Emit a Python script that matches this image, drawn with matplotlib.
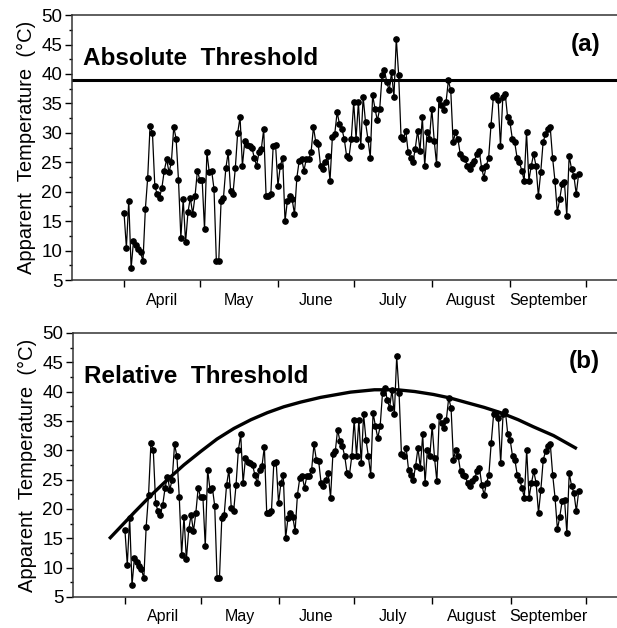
import numpy as np
import matplotlib
matplotlib.use("Agg")
import matplotlib.pyplot as plt
from matplotlib.ticker import FixedLocator, FixedFormatter, MultipleLocator, NullFormatter

plt.rcParams.update({
    "font.family": ["Liberation Sans", "DejaVu Sans"],
    "axes.edgecolor": "#333333", "axes.linewidth": 1.1,
})

# daily apparent temperature (°C), 1 April .. 28 September
TEMPS = [
    16.4, 10.5, 18.5, 7.0, 11.6, 11.0, 10.2, 9.7, 8.2, 17.0,
    22.4, 31.2, 30.0, 21.0, 19.6, 19.0, 20.7, 23.6, 25.5, 23.3,
    25.0, 31.0, 29.0, 22.0, 12.2, 18.7, 11.4, 16.5, 19.0, 16.2,
    19.3, 23.6, 22.0, 22.0, 13.6, 26.7, 23.3, 23.6, 20.5, 8.2,
    8.2, 18.5, 19.0, 24.0, 26.7, 20.2, 19.6, 24.0, 30.0, 32.7,
    24.4, 28.6, 28.0, 27.8, 27.5, 25.8, 24.4, 26.7, 27.3, 30.6,
    19.3, 19.3, 19.6, 27.8, 28.0, 21.0, 24.4, 25.8, 15.0, 18.5,
    19.3, 18.7, 16.2, 22.4, 25.3, 25.6, 23.6, 25.6, 25.6, 26.7,
    31.0, 28.4,
    28.1, 24.4, 23.9, 25.0, 26.1, 21.9, 29.3, 29.8, 33.5, 31.5,
    30.7, 29.0, 26.1, 25.8, 29.0, 35.2, 29.0, 35.2, 27.8, 36.1,
    31.8, 29.0, 25.8, 36.4, 34.1, 32.1, 34.1, 39.8, 40.6, 38.6,
    37.2, 40.3, 36.1, 46.0, 39.8, 29.3, 29.0, 30.4, 26.7, 25.8,
    25.0, 27.3, 30.4, 27.0, 32.7, 24.4, 30.1, 29.0, 34.1, 28.7,
    24.7, 35.8, 34.7, 33.8, 35.2, 38.9, 37.2, 28.4, 30.1, 29.0,
    26.4, 25.8, 25.6, 24.4, 23.9, 24.7, 25.3, 26.4, 27.0, 24.1,
    22.4, 24.4, 25.8, 31.3, 36.1, 36.4, 35.5, 27.8, 36.1, 36.6,
    32.7, 31.8, 29.0, 28.4, 25.8, 25.0, 23.6, 21.9, 30.1, 21.9,
    24.4, 26.4, 24.4, 19.3, 23.3, 28.4, 29.8, 30.7, 31.0, 25.8,
    21.9, 16.5, 18.7, 21.3, 21.6, 15.9, 26.1, 23.9, 22.7, 19.6,
    23.0,
]
FIRST_DAY, LAST_DAY = 0, 180          # days after 1 April

MONTHS = ["April", "May", "June", "July", "August", "September"]
MONTH_START = [0, 30, 61, 91, 122, 153, 183]

ABS_THRESHOLD = 39.0

# relative threshold curve (days after 1 April, °C)
CURVE_DAY = [-5.8, 3.7, 10.3, 16.9, 23.4, 30.1, 36.5, 43.2, 50.0, 56.5,
             63.0, 69.7, 77.6, 89.5, 99.0, 108.0, 115.0, 122.4, 129.0,
             135.7, 142.5, 149.0, 156.0, 162.0, 170.0, 178.7]
CURVE_TEMP = [15.1, 19.4, 22.3, 25.0, 27.5, 29.8, 31.9, 33.7, 35.2, 36.4,
              37.4, 38.2, 39.0, 39.9, 40.3, 40.3, 40.0, 39.5, 38.9,
              38.1, 37.3, 36.4, 35.2, 34.0, 32.5, 30.4]

days = np.linspace(FIRST_DAY, LAST_DAY, len(TEMPS))
mid_month = [(a + b) / 2 for a, b in zip(MONTH_START[:-1], MONTH_START[1:])]


def style(ax, title, tag):
    ax.plot(days, TEMPS, color="black", lw=0.9, marker="o", ms=3.8, mfc="black", mec="black")
    ax.set_xlim(-20.6, 195.2)
    ax.set_ylim(5, 50)
    ax.yaxis.set_major_locator(MultipleLocator(5))
    ax.yaxis.set_minor_locator(MultipleLocator(2.5))
    ax.xaxis.set_major_locator(FixedLocator(MONTH_START))
    ax.xaxis.set_major_formatter(NullFormatter())
    ax.xaxis.set_minor_locator(FixedLocator(mid_month))
    ax.xaxis.set_minor_formatter(FixedFormatter(MONTHS))
    ax.tick_params(axis="y", which="major", length=5, width=1, labelsize=13.5, pad=2)
    ax.tick_params(axis="y", which="minor", length=2.5, width=1)
    ax.tick_params(axis="x", which="major", length=5, width=1)
    ax.tick_params(axis="x", which="minor", length=0, labelsize=11.5, pad=9)
    ax.spines["right"].set_visible(False)
    ax.set_ylabel("Apparent  Temperature  (°C)", fontsize=14.5, labelpad=4)
    ax.text(0.02, 0.835, title, transform=ax.transAxes, fontsize=17.5,
            fontweight="bold", va="center", ha="left")
    ax.text(0.969, 0.89, tag, transform=ax.transAxes, fontsize=17.5,
            fontweight="bold", va="center", ha="right")


fig = plt.figure(figsize=(6.17, 6.28), dpi=100, facecolor="white")
ax1 = fig.add_axes([0.1167, 0.554, 0.8833, 0.422])
ax2 = fig.add_axes([0.1183, 0.0494, 0.8817, 0.4206])

style(ax1, "Absolute  Threshold", "(a)")
ax1.axhline(ABS_THRESHOLD, color="black", lw=2.2)

style(ax2, "Relative  Threshold", "(b)")
ax2.plot(CURVE_DAY, CURVE_TEMP, color="black", lw=2.4)

fig.savefig("out.png", dpi=100, facecolor="white")
